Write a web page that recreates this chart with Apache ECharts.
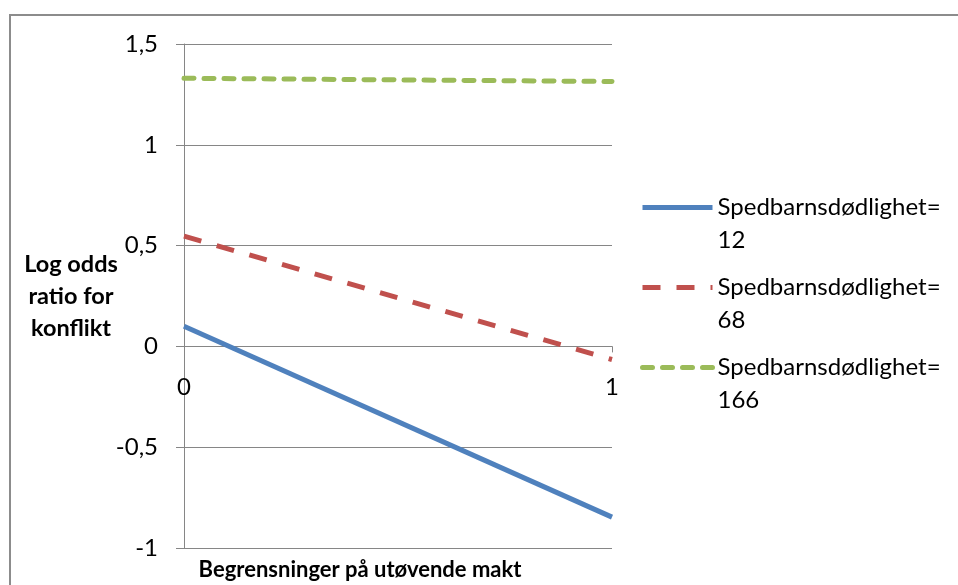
<!DOCTYPE html>
<html>
<head>
<meta charset="utf-8">
<script src="https://cdn.jsdelivr.net/npm/echarts@6/dist/echarts.min.js"></script>
<style>
  html, body { margin: 0; padding: 0; background: #fff; overflow: hidden; width: 958px; height: 585px; }
  #frame { position: absolute; left: 9px; top: 14px; width: 960px; height: 580px;
           border: 2px solid #8c8c8c; box-sizing: border-box; }
  #chart { position: absolute; left: 0; top: 0; width: 958px; height: 585px; }
</style>
</head>
<body>
<div id="frame"></div>
<div id="chart"></div>
<script>
// x positions along "Begrensninger på utøvende makt"
const xCategories = ['0', '1'];
// Log odds ratio per infant mortality level
const seriesNames = ['Spedbarnsdødlighet=12', 'Spedbarnsdødlighet=68', 'Spedbarnsdødlighet=166'];
const low = [0.10, -0.847];
const mid = [0.547, -0.065];
const high = [1.33, 1.314];
const yTicks = { min: -1, max: 1.5, step: 0.5 };

const font = 'Lato, "Open Sans", sans-serif';
const gridGray = '#868686';

// plot box; the category axis is drawn through y = 0
const plot = { left: 184, right: 346, top: 44, bottom: 37, height: 585 - 44 - 37 };
const zeroOffset = -plot.height * (0 - yTicks.min) / (yTicks.max - yTicks.min);

const chart = echarts.init(document.getElementById('chart'), null, { renderer: 'canvas' });
chart.setOption({
  animation: false,
  backgroundColor: 'transparent',
  textStyle: { fontFamily: font },
  title: [
    {
      text: 'Log odds\nratio for\nkonflikt',
      left: 66, top: 243, textAlign: 'center',
      textStyle: { fontFamily: font, fontWeight: 'bold', fontSize: 23.5, lineHeight: 32, color: '#000' }
    },
    {
      text: 'Begrensninger på utøvende makt',
      left: 355, top: 554, textAlign: 'center',
      textStyle: { fontFamily: font, fontWeight: 'bold', fontSize: 22, color: '#000' }
    }
  ],
  grid: {
    left: plot.left, right: plot.right, top: plot.top, bottom: plot.bottom,
    containLabel: false, outerBoundsMode: 'none'
  },
  xAxis: {
    type: 'category', data: xCategories, boundaryGap: false,
    position: 'bottom', offset: zeroOffset,
    axisLine: { onZero: false, lineStyle: { color: gridGray, width: 1 } },
    axisTick: { show: true, length: 6, lineStyle: { color: gridGray } },
    axisLabel: { margin: 29, fontSize: 24, color: '#000', fontFamily: font },
    splitLine: { show: false }
  },
  yAxis: {
    type: 'value', min: yTicks.min, max: yTicks.max, interval: yTicks.step,
    axisLine: { show: true, onZero: false, lineStyle: { color: gridGray, width: 1 } },
    axisTick: { show: true, length: 8, lineStyle: { color: gridGray } },
    axisLabel: {
      margin: 26, fontSize: 24, color: '#000', fontFamily: font,
      formatter: v => String(Math.round(v * 10) / 10).replace('.', ',')
    },
    splitLine: { show: true, lineStyle: { color: gridGray, width: 1 } }
  },
  legend: {
    orient: 'vertical', left: 635, top: 153,
    itemWidth: 70, itemHeight: 10, itemGap: -19,
    icon: 'inherit',
    lineStyle: { width: 5 },
    // line-only keys: hide the marker dot
    itemStyle: { opacity: 0, color: 'rgba(0,0,0,0)', borderWidth: 0 },
    data: seriesNames,
    formatter: n => '\n' + n.replace('=', '=\n'),
    textStyle: { fontFamily: font, fontSize: 24, lineHeight: 33, color: '#000' }
  },
  series: [
    {
      name: seriesNames[0], type: 'line', data: low, symbol: 'none',
      lineStyle: { color: '#4F81BD', width: 5, cap: 'butt' }, itemStyle: { color: '#4F81BD' }
    },
    {
      name: seriesNames[1], type: 'line', data: mid, symbol: 'none',
      lineStyle: { color: '#C0504D', width: 5, type: [18, 16], cap: 'butt' }, itemStyle: { color: '#C0504D' }
    },
    {
      name: seriesNames[2], type: 'line', data: high, symbol: 'none',
      lineStyle: { color: '#9BBB59', width: 5, type: [10, 10], cap: 'round' }, itemStyle: { color: '#9BBB59' }
    }
  ]
});
</script>
</body>
</html>
